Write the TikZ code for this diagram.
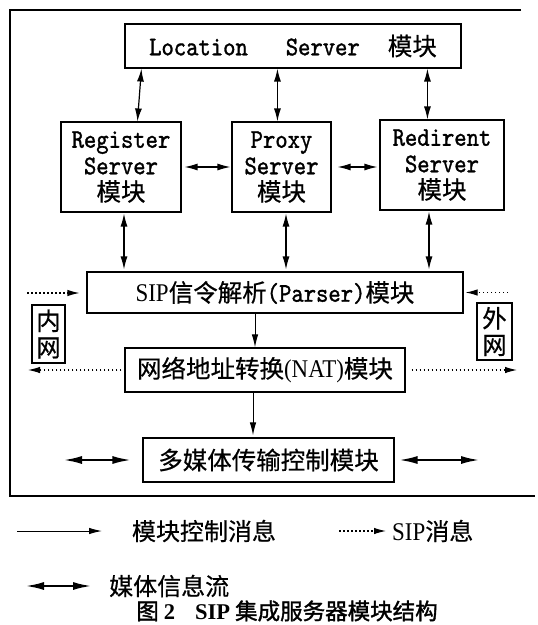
\documentclass[tikz,border=0pt]{standalone}
\usepackage{fontspec}
\setmainfont{Liberation Serif}
\setmonofont[FakeBold=1.2,FakeStretch=0.87]{lmmono10-regular.otf}
\newfontfamily\rmn[FakeStretch=0.9]{Liberation Serif}
\newfontfamily\cjk[FakeBold=0.5]{Noto Sans CJK SC}
\newfontfamily\cjkb[FakeBold=1.5]{Noto Sans CJK SC}
\usetikzlibrary{arrows.meta}
\newcommand\cj[1]{{\cjk\fontsize{24.5}{26.5}\selectfont #1}}
\newcommand\lcj[1]{{\cjk\fontsize{24}{26}\selectfont #1}}
\newcommand\rmt[1]{{\rmn\fontsize{25.5}{26}\selectfont #1}}
\tikzset{
  box/.style={draw, line width=1.1pt, inner sep=0pt, align=center,
    font=\fontsize{27}{26.5}\selectfont\ttfamily},
  dbl/.style={line width=1.2pt, arrows={Latex[length=13pt,width=7pt]-Latex[length=13pt,width=7pt]}},
  one/.style={line width=1pt, arrows={-Latex[length=13pt,width=6.5pt]}},
  dots/.style={line width=1.1pt, dash pattern=on 1.5pt off 2.5pt, arrows={-Latex[length=12pt,width=6.5pt]}},
  media/.style={line width=2.4pt, arrows={Latex[length=19pt,width=8pt]-Latex[length=19pt,width=8pt]}},
  txt/.style={inner sep=1pt}
}
\begin{document}
\begin{tikzpicture}[x=1pt,y=-1pt]
\useasboundingbox (0,0) rectangle (538,625);
% outer frame
\draw[line width=1.1pt] (521,10) -- (10,10) -- (10,496) -- (535,496);
% boxes
\node[box, minimum width=336pt, minimum height=44pt] (loc) at (293,46)
  {Location\hspace{38pt}Server\hspace{28pt}\cj{模块}};
\node[box, minimum width=120pt, minimum height=90pt] (reg) at (121,167)
  {Register\\Server\\\cj{模块}};
\node[box, minimum width=99pt, minimum height=90pt] (prx) at (281.5,167)
  {Proxy\\Server\\\cj{模块}};
\node[box, minimum width=124pt, minimum height=90pt] (red) at (442,165)
  {Redirent\\Server\\\cj{模块}};
\node[box, minimum width=376pt, minimum height=41pt] (par) at (275,292.5)
  {\rmt{SIP}\cj{信令解析}(Parser)\cj{模块}};
\node[box, minimum width=280pt, minimum height=44pt] (nat) at (265,370)
  {\cj{网络地址转换}\rmt{(NAT)}\cj{模块}};
\node[box, minimum width=251pt, minimum height=44pt] (mm) at (268.5,460)
  {\cj{多媒体传输控制模块}};
\node[box, minimum width=33pt, minimum height=58pt] (inw) at (48.5,334)
  {\cj{内}\\\cj{网}};
\node[box, minimum width=35pt, minimum height=57pt] (outw) at (494.5,331.5)
  {\cj{外}\\\cj{网}};
% location links
\coordinate (a1) at ([xshift=17pt]loc.south west);
\coordinate (a1e) at ([xshift=77pt]reg.north west);
\draw[dbl] (a1) -- (a1e);
\coordinate (a2) at ([xshift=153pt]loc.south west);
\draw[dbl] (a2) -- (a2 |- prx.north);
\coordinate (a3) at ([xshift=303pt]loc.south west);
\draw[dbl] (a3) -- (a3 |- red.north);
% horizontal links
\draw[dbl, shorten <=3pt, shorten >=1pt] (reg.east) -- (prx.west);
\draw[dbl, shorten <=6pt, shorten >=2pt] (prx.east) -- (prx.east -| red.west);
% down to parser
\coordinate (b1) at ([xshift=3pt]reg.south);
\draw[dbl, shorten <=1pt, shorten >=2pt] (b1) -- (b1 |- par.north);
\coordinate (b2) at ([xshift=4.5pt]prx.south);
\draw[dbl, shorten <=1pt, shorten >=2pt] (b2) -- (b2 |- par.north);
\coordinate (b3) at ([xshift=-13pt]red.south);
\draw[dbl, shorten <=1pt, shorten >=2pt] (b3) -- (b3 |- par.north);
% control
\coordinate (c1) at ([xshift=-20pt]par.south);
\draw[one] (c1) -- (c1 |- nat.north);
\coordinate (c2) at ([xshift=-12pt]nat.south);
\draw[one, shorten >=2pt] (c2) -- (c2 |- mm.north);
% SIP messages
\coordinate (p1) at (27,293);
\draw[dots, shorten >=7pt] (p1) -- (p1 -| par.west);
\coordinate (p2) at (508,292.5);
\draw[dots, shorten >=2pt] (p2) -- (p2 -| par.east);
\coordinate (n1) at (28,370);
\draw[dots, shorten <=3pt] (nat.west) -- (n1);
\coordinate (n2) at (517,370);
\draw[dots, shorten <=6pt] (nat.east) -- (n2);
% media
\coordinate (m1) at (63,460);
\draw[media, shorten <=11pt] (mm.west) -- (m1);
\coordinate (m2) at (480,460);
\draw[media, shorten <=4pt] (mm.east) -- (m2);
% legend
\coordinate (l1a) at (17,531);
\coordinate (l1b) at (102,531);
\draw[one] (l1a) -- (l1b);
\node[txt] (lt1) at (204,531) {\lcj{模块控制消息}};
\coordinate (l2a) at (339,531);
\coordinate (l2b) at (386,531);
\draw[dots] (l2a) -- (l2b);
\node[txt, anchor=west] (lt2) at (391,531) {\rmt{SIP}\lcj{消息}};
\coordinate (l3a) at (25,586);
\coordinate (l3b) at (92,586);
\draw[media] (l3a) -- (l3b);
\node[txt, anchor=west] (lt3) at (108,586) {\lcj{媒体信息流}};
\node[txt] (cap) at (287,611)
  {\fontsize{22.5}{24}\selectfont\cjkb 图 {\rmfamily\bfseries 2}\hspace{20pt}{\rmfamily\bfseries SIP} 集成服务器模块结构};
\end{tikzpicture}
\end{document}
